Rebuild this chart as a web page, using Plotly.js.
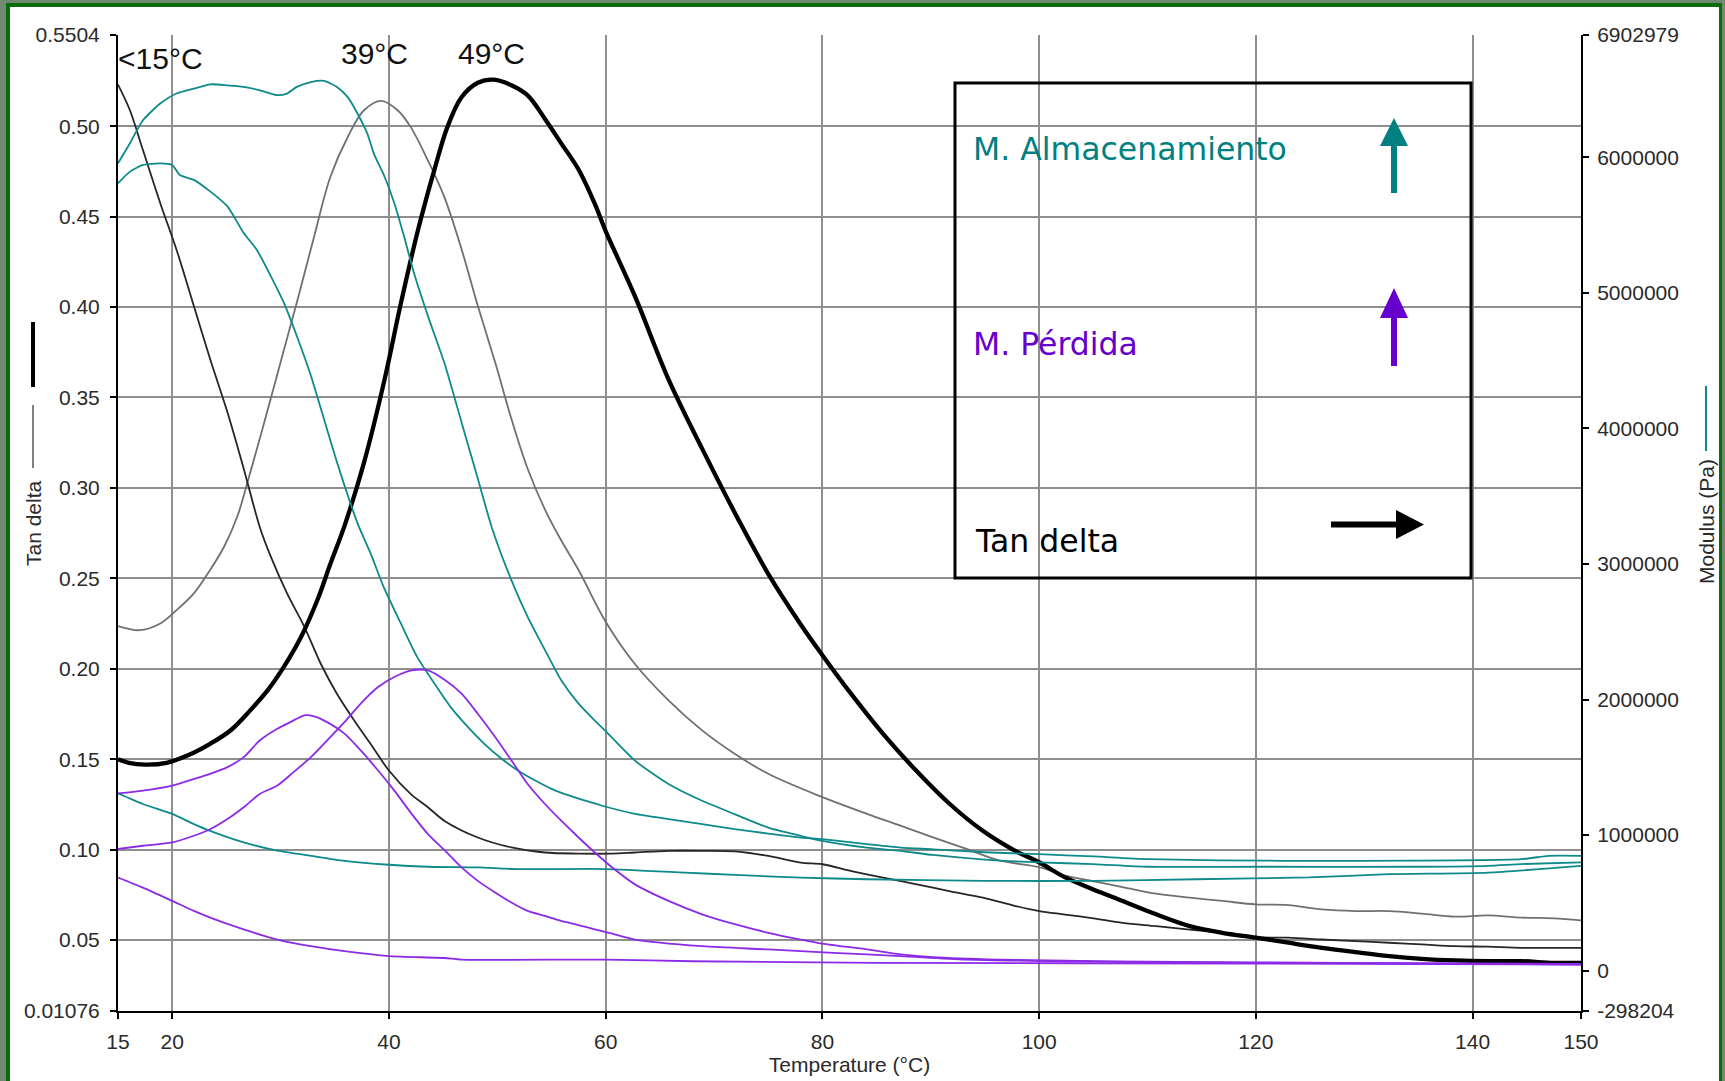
<!DOCTYPE html>
<html>
<head>
<meta charset="utf-8">
<script src="https://cdn.plot.ly/plotly-3.0.1.min.js"></script>
<style>
html,body{margin:0;padding:0;background:#6f8a70;}
#wrap{position:relative;width:1725px;height:1081px;overflow:hidden;}
#chart{position:absolute;left:0;top:0;width:1725px;height:1081px;}
.fr{position:absolute;pointer-events:none;}
</style>
</head>
<body>
<div id="wrap">
<div id="chart"></div>
<div class="fr" style="left:0;top:0;width:1725px;height:3px;background:#6f8a70"></div>
<div class="fr" style="left:0;top:3px;width:1725px;height:4px;background:#0c6b0c"></div>
<div class="fr" style="left:0;top:0;width:6px;height:1081px;background:#6f8a70"></div>
<div class="fr" style="left:6px;top:3px;width:4px;height:1078px;background:#0c6b0c"></div>
<div class="fr" style="left:1719px;top:3px;width:3px;height:1078px;background:#0c6b0c"></div>
<div class="fr" style="left:1722px;top:0;width:3px;height:1081px;background:#6f8a70"></div>
</div>
<script>
// ---------- DATA ----------
const xTicks = [15, 20, 40, 60, 80, 100, 120, 140, 150];
const leftTicks = [0.01076, 0.05, 0.10, 0.15, 0.20, 0.25, 0.30, 0.35, 0.40, 0.45, 0.50, 0.5504];
const leftTickText = ['0.01076', '0.05', '0.10', '0.15', '0.20', '0.25', '0.30', '0.35', '0.40', '0.45', '0.50', '0.5504'];
const rightTicks = [-298204, 0, 1000000, 2000000, 3000000, 4000000, 5000000, 6000000, 6902979];
const rightTickText = ['-298204', '0', '1000000', '2000000', '3000000', '4000000', '5000000', '6000000', '6902979'];

const peakLabels = ['<15°C', '39°C', '49°C'];
const legendLabels = ['M. Almacenamiento', 'M. Pérdida', 'Tan delta'];

// Tan delta, sample with peak at 49 °C (thick black)
const td49_T = [15,16,17.5,19.5,21.4,23.5,25.4,27.2,28.8,30.3,31.9,33.4,34.6,35.9,37.7,39.6,41.1,42.7,44.2,45.4,46.7,48.2,49.7,51.3,52.8,54.4,55.9,57.5,59,60,62.7,65.8,68.9,72.2,75,78,80,82.6,85.6,88.6,91.7,94.8,97.8,100,102.4,105,107.7,110.8,113.9,116.9,120,123,126.1,129.2,132.3,135.3,138.4,141.4,144.5,147.5,150];
const td49 = [0.150,0.148,0.147,0.148,0.152,0.1585,0.166,0.177,0.188,0.201,0.2177,0.238,0.258,0.279,0.314,0.360,0.402,0.443,0.476,0.4996,0.516,0.524,0.5257,0.5226,0.517,0.504,0.4905,0.476,0.457,0.442,0.406,0.360,0.3217,0.283,0.2525,0.2245,0.2075,0.1865,0.164,0.144,0.1255,0.1104,0.0993,0.093,0.0846,0.078,0.0716,0.0642,0.0577,0.054,0.0513,0.0485,0.0457,0.0433,0.0411,0.0396,0.0387,0.0383,0.0383,0.0374,0.0374];

// Tan delta, sample with peak at 39 °C (gray)
const td39_T = [15,17,18.9,20.4,22,23.5,24.8,26,26.9,28.5,30,31.5,33.1,34.6,36.2,37.7,39.3,40.8,42,43.6,45.1,46.7,48.2,49.8,51.3,52.8,54.4,55.8,57.5,60,62.7,65.8,68.9,71.9,75,80,84.1,87.2,90.2,93.3,96.3,100,102.4,105,107.7,110.8,113.9,116.9,120,123,126.1,129.2,132.3,135.3,138.4,141.4,144.5,147.5,150];
const td39 = [0.2236,0.2213,0.225,0.2324,0.2417,0.2546,0.2676,0.284,0.302,0.3363,0.3694,0.4025,0.439,0.472,0.494,0.5088,0.514,0.5088,0.4996,0.481,0.461,0.432,0.4007,0.3694,0.3382,0.3106,0.288,0.272,0.2546,0.226,0.2026,0.1825,0.1659,0.153,0.1419,0.129,0.1198,0.1133,0.1068,0.1004,0.094,0.0903,0.0856,0.0825,0.0793,0.0756,0.0734,0.0716,0.0697,0.0693,0.0669,0.066,0.066,0.0646,0.0629,0.0636,0.0624,0.062,0.0609];

// Tan delta, sample with peak below 15 °C (thin black)
const td15_T = [15,16.1,17.3,18.9,20.4,22,23.5,25.1,26.6,28.1,29.1,30.6,32.2,33.7,35.2,36.8,38.3,40,42,43.6,45.1,48.2,51.3,54.4,57.5,60.6,62.7,65.8,68.9,71.9,75,78,80,82.6,85.6,88.7,91.7,94.8,97.8,100,102.4,105,107.7,110.8,113.9,116.9,120,123,126.1,129.2,132.3,135.3,138.4,141.4,144.5,150];
const td15 = [0.523,0.5088,0.4868,0.4574,0.4317,0.4006,0.3712,0.3418,0.3106,0.278,0.262,0.2417,0.2232,0.2029,0.1862,0.1714,0.1585,0.1437,0.1308,0.1234,0.116,0.1067,0.1012,0.0984,0.0978,0.0978,0.0984,0.0993,0.0993,0.099,0.0965,0.0928,0.0919,0.0882,0.0845,0.0808,0.0771,0.0734,0.0688,0.066,0.0641,0.062,0.0595,0.0577,0.0558,0.054,0.0516,0.0513,0.0503,0.0494,0.0485,0.0476,0.0466,0.0463,0.0457,0.0457];

// Storage modulus (Pa)
const gs49_T = [15,16.1,17.3,18.9,20.4,22,23.5,25.1,26.6,28.1,29.7,30.6,31.5,32.8,34,35.2,36.2,37.1,38,38.6,39.6,40.5,41.4,42.3,43.6,45.1,46.7,48.2,49.5,51.3,52.8,54.4,55.9,57.5,59,60,62.7,65.8,68.9,71.9,75,78,80,84.1,87.2,90.2,95,100,105,110,120,135,141.4,144.5,150];
const gs49 = [5956000,6104000,6274000,6397000,6471000,6507000,6539000,6532000,6520000,6495000,6459000,6471000,6520000,6556000,6564000,6520000,6445000,6324000,6177000,6030000,5857000,5662000,5416000,5150000,4829000,4488000,4046000,3630000,3268000,2881000,2610000,2365000,2142000,1970000,1845000,1767000,1549000,1377000,1253000,1154000,1055000,994000,957000,907000,883000,853000,819000,798000,786000,766000,766000,766000,773000,786000,798000];

const gs39_T = [15,16.1,17.3,18.9,20,20.7,22,23.5,25.1,26.6,27.8,29.1,30.3,31.5,32.8,34,35.2,36.5,37.2,38.3,39.5,41.1,42.6,44.2,45.7,47.3,48.8,50.4,51.9,53.5,55,56.6,58.1,59.6,62.7,65.8,68.9,71.9,75,78,80,84.1,87.2,90.2,95,100,105,110,122.5,144.5,147,150];
const gs39 = [5809000,5895000,5944000,5956000,5944000,5870000,5834000,5749000,5638000,5442000,5319000,5124000,4928000,4682000,4389000,4071000,3752000,3435000,3281000,3080000,2833000,2561000,2315000,2118000,1944000,1796000,1673000,1563000,1476000,1402000,1341000,1292000,1254000,1218000,1156000,1118000,1081000,1043000,1011000,982000,970000,933000,907000,895000,873000,859000,842000,822000,810000,822000,847000,847000];

const gs15_T = [15,17.3,20,22,23.5,26.6,29.7,32.8,35.9,40,43.6,48.2,51.9,60,67.3,71.9,78,84.1,94.8,105,114.5,124.9,132.3,141.4,150];
const gs15 = [1308000,1229000,1156000,1081000,1031000,946000,885000,847000,810000,781000,766000,761000,749000,749000,723000,706000,686000,674000,662000,662000,674000,687000,711000,723000,773000];

// Loss modulus (Pa)
const gl39_T = [15,17.3,20,22,23.5,25.1,26.6,28.1,29.7,30.9,32.2,33.1,34.3,35.9,37.4,39,40.5,42.1,43.6,45.2,46.7,48.2,49.8,51.3,52.8,54.4,55.9,57.5,59,60.6,62.7,68.9,75,81,87.2,93.3,102.4,110,120,135,150];
const gl39 = [1308000,1328000,1365000,1414000,1452000,1501000,1575000,1699000,1784000,1833000,1883000,1876000,1833000,1748000,1624000,1476000,1328000,1156000,1007000,883000,761000,662000,576000,502000,440000,403000,366000,336000,304000,272000,229000,180000,156000,131000,107000,81000,69000,63000,57000,52000,45000];

const gl49_T = [15,17.3,20,22,23.5,25.1,26.6,28.1,29.7,31.2,32.8,34.3,35.9,37.4,39,40.5,42.1,43.6,45.2,46.7,48.2,49.8,51.3,52.8,54.4,55.9,57.5,59,60.6,62.7,65.8,68.9,71.9,75,78,80,84.1,87.2,90.2,96.3,102.4,110,120,135,150];
const gl49 = [897000,921000,946000,995000,1043000,1118000,1205000,1304000,1365000,1464000,1575000,1699000,1833000,1970000,2092000,2166000,2215000,2215000,2142000,2043000,1895000,1723000,1551000,1377000,1229000,1106000,982000,871000,761000,636000,514000,415000,342000,279000,229000,199000,156000,120000,99000,81000,73000,65000,60000,55000,49000];

const gl15_T = [15,17.3,20,22,23.5,26.6,29.7,32.8,35.9,40,45.1,46.7,60,68,85,120,150];
const gl15 = [687000,612000,514000,440000,391000,304000,229000,180000,143000,107000,93000,81000,81000,69000,57000,52000,45000];

// ---------- STYLE / LAYOUT ----------
const TEAL = '#0f8a8a', PURPLE = '#8b2be6', GRAY = '#707070', THIN = '#262626';
const ML = 118, MT = 35, PW = 1463, PH = 976;
const px = x => (x - ML) / PW;
const py = y => 1 - (y - MT) / PH;

function line(x, y, color, width, axis, smooth) {
  return {x: x, y: y, type: 'scatter', mode: 'lines', yaxis: axis,
          line: {color: color, width: width, shape: 'spline', smoothing: smooth},
          hoverinfo: 'skip'};
}
const traces = [
  line(gs15_T, gs15, TEAL, 1.8, 'y2', 0.6),
  line(gs39_T, gs39, TEAL, 1.8, 'y2', 0.6),
  line(gs49_T, gs49, TEAL, 1.8, 'y2', 0.6),
  line(gl15_T, gl15, PURPLE, 1.8, 'y2', 0.6),
  line(gl39_T, gl39, PURPLE, 1.8, 'y2', 0.8),
  line(gl49_T, gl49, PURPLE, 1.8, 'y2', 0.8),
  line(td39_T, td39, GRAY, 1.8, 'y', 1.0),
  line(td15_T, td15, THIN, 1.8, 'y', 0.9),
  line(td49_T, td49, '#000000', 4.3, 'y', 1.0)
];

const tickFont = {family: 'Liberation Sans, Arial, sans-serif', size: 21, color: '#2a2a2a'};
const boxFont = c => ({family: 'DejaVu Sans, Verdana, sans-serif', size: 31.5, color: c});
const peakFont = {family: 'Liberation Sans, Arial, sans-serif', size: 30, color: '#111'};

const shapes = [
  // legend box
  {type: 'rect', xref: 'paper', yref: 'paper', x0: px(955), x1: px(1471), y0: py(83), y1: py(578),
   line: {color: '#000', width: 3}, fillcolor: 'rgba(0,0,0,0)'},
  // teal up arrow
  {type: 'line', xref: 'paper', yref: 'paper', x0: px(1394), x1: px(1394), y0: py(193), y1: py(142),
   line: {color: '#008080', width: 6}},
  {type: 'path', xref: 'paper', yref: 'paper', fillcolor: '#008080', line: {width: 0},
   path: `M${px(1394)},${py(118)} L${px(1380)},${py(146)} L${px(1408)},${py(146)} Z`},
  // purple up arrow
  {type: 'line', xref: 'paper', yref: 'paper', x0: px(1394), x1: px(1394), y0: py(366), y1: py(314),
   line: {color: '#6600cc', width: 6}},
  {type: 'path', xref: 'paper', yref: 'paper', fillcolor: '#6600cc', line: {width: 0},
   path: `M${px(1394)},${py(288)} L${px(1380)},${py(318)} L${px(1408)},${py(318)} Z`},
  // black right arrow
  {type: 'line', xref: 'paper', yref: 'paper', x0: px(1331), x1: px(1398), y0: py(524.5), y1: py(524.5),
   line: {color: '#000', width: 6}},
  {type: 'path', xref: 'paper', yref: 'paper', fillcolor: '#000', line: {width: 0},
   path: `M${px(1424)},${py(524.5)} L${px(1396)},${py(510)} L${px(1396)},${py(539)} Z`},
  // left axis title line samples
  {type: 'line', xref: 'paper', yref: 'paper', x0: px(33), x1: px(33), y0: py(322), y1: py(387),
   line: {color: '#000', width: 4}},
  {type: 'line', xref: 'paper', yref: 'paper', x0: px(33), x1: px(33), y0: py(405), y1: py(468),
   line: {color: '#808080', width: 2}},
  // right axis title line sample
  {type: 'line', xref: 'paper', yref: 'paper', x0: px(1706), x1: px(1706), y0: py(386), y1: py(451),
   line: {color: TEAL, width: 2}}
];

const annotations = [
  {text: peakLabels[0], xref: 'paper', yref: 'y', x: px(116), y: 0.5375, xanchor: 'left', yanchor: 'middle', showarrow: false, font: peakFont},
  {text: peakLabels[1], xref: 'x', yref: 'y', x: 38.7, y: 0.540, xanchor: 'center', yanchor: 'middle', showarrow: false, font: peakFont},
  {text: peakLabels[2], xref: 'x', yref: 'y', x: 49.5, y: 0.540, xanchor: 'center', yanchor: 'middle', showarrow: false, font: peakFont},
  {text: legendLabels[0], xref: 'paper', yref: 'paper', x: px(971), y: py(149), xanchor: 'left', yanchor: 'middle', showarrow: false, font: boxFont('#008080')},
  {text: legendLabels[1], xref: 'paper', yref: 'paper', x: px(971), y: py(344), xanchor: 'left', yanchor: 'middle', showarrow: false, font: boxFont('#6600cc')},
  {text: legendLabels[2], xref: 'paper', yref: 'paper', x: px(973), y: py(541), xanchor: 'left', yanchor: 'middle', showarrow: false, font: boxFont('#000')},
  {text: 'Tan delta', xref: 'paper', yref: 'paper', x: px(33), y: py(523), xanchor: 'center', yanchor: 'middle', textangle: -90, showarrow: false, font: tickFont},
  {text: 'Modulus (Pa)', xref: 'paper', yref: 'paper', x: px(1706), y: py(522), xanchor: 'center', yanchor: 'middle', textangle: -90, showarrow: false, font: tickFont}
];

const axisCommon = {
  showline: true, linecolor: '#000', linewidth: 2,
  ticks: 'outside', ticklen: 6, tickwidth: 2, tickcolor: '#000',
  zeroline: false, tickfont: tickFont, tickmode: 'array', fixedrange: true
};

const layout = {
  width: 1725, height: 1081,
  margin: {l: ML, r: 1725 - ML - PW, t: MT, b: 1081 - MT - PH, pad: 0},
  paper_bgcolor: '#ffffff', plot_bgcolor: '#ffffff',
  showlegend: false,
  font: tickFont,
  xaxis: Object.assign({}, axisCommon, {
    range: [15, 150], tickvals: xTicks, ticktext: xTicks.map(String),
    showgrid: true, gridcolor: '#8f8f8f', gridwidth: 2,
    ticklabelstandoff: 5,
    title: {text: 'Temperature (°C)', font: tickFont, standoff: 5}
  }),
  yaxis: Object.assign({}, axisCommon, {
    range: [0.01076, 0.5504], tickvals: leftTicks, ticktext: leftTickText,
    showgrid: true, gridcolor: '#8f8f8f', gridwidth: 2,
    ticklabelstandoff: 6
  }),
  yaxis2: Object.assign({}, axisCommon, {
    overlaying: 'y', side: 'right', anchor: 'x',
    range: [-298204, 6902979], tickvals: rightTicks, ticktext: rightTickText,
    showgrid: false, ticklabelstandoff: 4
  }),
  shapes: shapes,
  annotations: annotations
};

Plotly.newPlot('chart', traces, layout, {displayModeBar: false, staticPlot: true});
</script>
</body>
</html>
